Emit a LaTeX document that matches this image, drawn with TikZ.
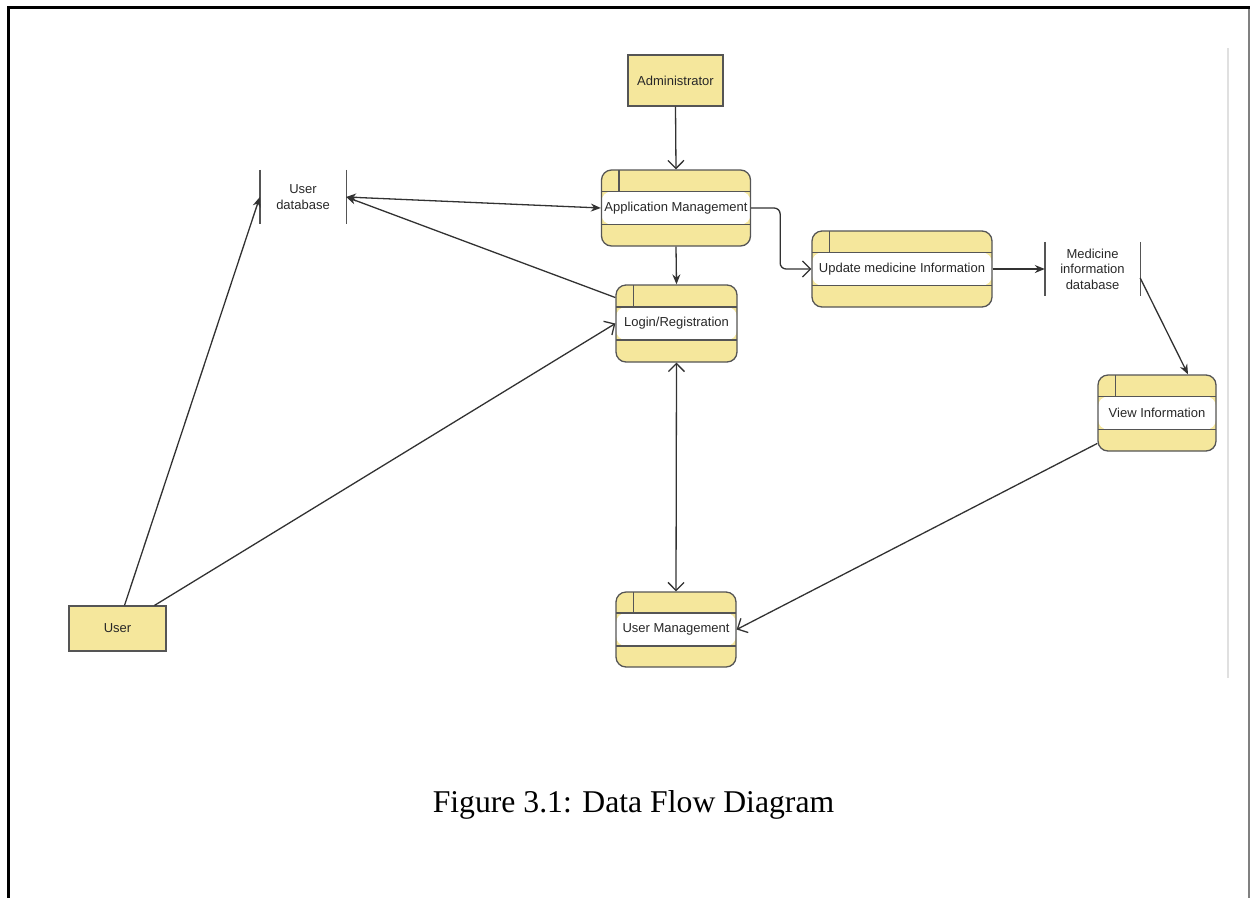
\documentclass[tikz,border=0pt]{standalone}
\usepackage{fontspec}
\setmainfont{Liberation Serif}
\newfontfamily\diafont{Liberation Sans}
\usetikzlibrary{arrows.meta}
\definecolor{procfill}{RGB}{245,231,156}
\definecolor{bordc}{RGB}{85,85,85}
\definecolor{linec}{RGB}{50,50,50}
\definecolor{txtc}{RGB}{40,40,40}
\tikzset{
  diatext/.style={font=\diafont\fontsize{13}{15.5}\selectfont, text=txtc},
  ext/.style={diatext, draw=bordc, line width=1.2pt, fill=procfill, inner sep=0pt},
  proc/.style={diatext, draw=bordc, line width=1.3pt, fill=procfill, rounded corners=10pt, inner sep=0pt,
    path picture={
      \fill[white] ([yshift=16.5pt]path picture bounding box.west) rectangle ([yshift=-16.5pt]path picture bounding box.east);
      \draw[bordc, line width=1.3pt] ([yshift=16.5pt]path picture bounding box.west) -- ([yshift=16.5pt]path picture bounding box.east);
      \draw[bordc, line width=1.3pt] ([yshift=-16.5pt]path picture bounding box.west) -- ([yshift=-16.5pt]path picture bounding box.east);
      \draw[bordc, line width=1.3pt] ([xshift=17.5pt]path picture bounding box.north west) -- ([xshift=17.5pt,yshift=16.5pt]path picture bounding box.west);
    }},
  store/.style={diatext, align=center, inner sep=0pt},
  storeline/.style={draw=bordc, line width=1.4pt},
  flow/.style={draw=linec, line width=1.3pt},
  fill arrow/.style={flow, -{Stealth[length=10pt,width=8pt]}},
  open arrow/.style={flow, -{Straight Barb[length=8pt,width=16pt]}},
}
\begin{document}
\begin{tikzpicture}[x=1pt,y=-1pt]
\useasboundingbox (0,0) rectangle (1250,898);
% frame
\draw[black, line width=3pt] (7.5,7.5) -- (1250,7.5);
\draw[black, line width=3pt] (8.7,6) -- (8.7,898);
\draw[gray, line width=1.5pt] (1249,9) -- (1249,898);
\draw[black!12, line width=2.2pt] (1228,48) -- (1228,678);

% externals
\node[ext, minimum width=95pt, minimum height=51pt] (adm) at (675.5,80.5) {Administrator};
\node[ext, minimum width=97pt, minimum height=45pt] (user) at (117.5,628.5) {User};

% processes
\node[proc, minimum width=149pt, minimum height=76pt] (am) at (676,208) {Application Management};
\node[proc, minimum width=121pt, minimum height=77pt] (lr) at (676.5,323.5) {Login/Registration};
\node[proc, minimum width=120pt, minimum height=75pt] (um) at (676,629.5) {User Management};
\node[proc, minimum width=180pt, minimum height=76pt] (upd) at (902,269) {Update medicine Information};
\node[proc, minimum width=118pt, minimum height=76pt] (vi) at (1157,413) {View Information};

% data stores
\node[store, minimum width=86pt, minimum height=54pt] (udb) at (303,197) {User\\database};
\draw[storeline] (udb.north west) -- (udb.south west);
\draw[storeline] (udb.north east) -- (udb.south east);
\node[store, minimum width=95pt, minimum height=54pt] (mdb) at (1092.5,269) {Medicine\\information\\database};
\draw[storeline] (mdb.north west) -- (mdb.south west);
\draw[storeline] (mdb.north east) -- (mdb.south east);

% flows
\draw[open arrow] (adm.south) -- (am.north);
\draw[flow, {Stealth[length=10pt,width=8pt]}-{Stealth[length=10pt,width=8pt]}] (udb.east) -- (am.west);
\draw[fill arrow] (am.south) -- (lr.north);
\draw[fill arrow] (lr.157) -- (udb.east);
\draw[fill arrow] ([xshift=7pt]user.north) -- (udb.west);
\draw[open arrow] ([xshift=37pt]user.north) -- (lr.west);
\draw[flow, {Straight Barb[length=8pt,width=16pt]}-{Straight Barb[length=8pt,width=16pt]}] (lr.south) -- (um.north);
\draw[open arrow] (vi.207) -- (um.east);
\draw[open arrow, rounded corners=6pt] (am.east) -- ++(29,0) |- (upd.west);
\draw[fill arrow] (upd.east) -- (mdb.west);
\draw[fill arrow] ([yshift=-9pt]mdb.east) -- ([xshift=31pt]vi.north);

% caption
\node[anchor=base, font=\fontsize{31.7}{38}\selectfont, inner sep=0pt] (cap) at (633.5,812) {Figure 3.1: Data Flow Diagram};
\end{tikzpicture}
\end{document}
